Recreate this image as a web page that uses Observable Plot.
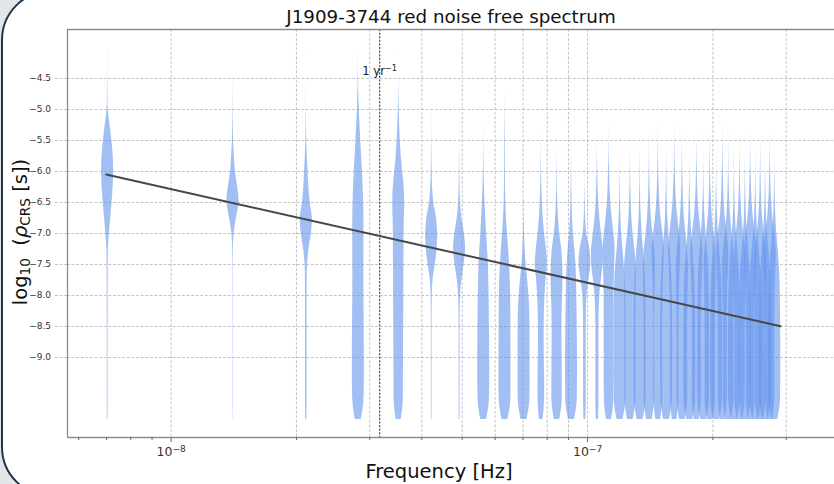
<!DOCTYPE html>
<html>
<head>
<meta charset="utf-8">
<script src="https://cdn.jsdelivr.net/npm/d3@7"></script>
<script src="https://cdn.jsdelivr.net/npm/@observablehq/plot@0.6"></script>
<style>
  html, body { margin: 0; padding: 0; width: 834px; height: 484px; overflow: hidden; background: #e3e6e9; font-family: "DejaVu Sans", sans-serif; }
  #card { position: absolute; left: 1px; top: -10px; width: 900px; height: 507px; box-sizing: border-box; border: 2px solid #1f3547; border-radius: 50px; background: #fff; }
  #chart { position: absolute; left: 0; top: 0; }
  .lbl { position: absolute; white-space: nowrap; color: #111; line-height: 1; }
  #title { left: 0; width: 902px; text-align: center; top: 8px; font-size: 18.3px; }
  #xlabel { left: 0; width: 878px; text-align: center; top: 462px; font-size: 19.5px; }
  #ylabel { left: 21px; top: 232px; font-size: 19.5px; transform: translate(-50%, -50%) rotate(-90deg); }
  #ylabel sub { font-size: 70%; vertical-align: -0.22em; line-height: 0; }
</style>
</head>
<body>
<div id="card"></div>
<div id="chart"></div>
<div id="title" class="lbl">J1909-3744 red noise free spectrum</div>
<div id="xlabel" class="lbl">Frequency [Hz]</div>
<div id="ylabel" class="lbl">log<sub>10</sub>&nbsp; (<i>ρ</i><sub>CRS</sub> [s])</div>
<script>
// Frequency bins (nHz), one violin each
const freqNHz = [7.04,14.08,21.12,28.16,35.20,42.24,49.28,56.32,63.36,70.40,77.44,84.48,91.52,98.56,105.60,112.64,119.68,126.72,133.76,140.80,147.84,154.88,161.92,168.96,176.00,183.04,190.08,197.12,204.16,211.20,218.24,225.28,232.32,239.36,246.40,253.44,260.48,267.52,274.56,281.60];

// log10 rho values at which the violin widths were read
const logRhoGrid = [-10,-9.75,-9.5,-9.25,-9,-8.75,-8.5,-8.25,-8,-7.75,-7.5,-7.25,-7,-6.75,-6.5,-6.25,-6,-5.75,-5.5,-5.25,-5,-4.75,-4.5,-4.25,-4];

// Relative violin width (0..10) per frequency bin, read at logRhoGrid
const density = [
  [0.6,0.7,0.7,0.7,0.7,0.7,0.7,0.8,0.8,0.9,1.0,1.3,2.9,5.2,7.4,9.2,10,9.3,7.0,4.0,1.0,0.4,0.2,0.1,0.05],
  [0.2,0.3,0.3,0.3,0.3,0.3,0.3,0.3,0.3,0.3,0.4,0.6,1.8,5.8,10,7.8,4.0,2.2,1.0,0.5,0.3,0.15,0.05,0,0],
  [1.0,1.2,1.3,1.3,1.3,1.3,1.3,1.3,1.3,1.5,2.0,4.5,8.5,10,6.5,4.2,3.0,1.6,0.8,0.4,0.2,0.1,0.05,0,0],
  [5.0,8.8,9.8,10,10,9.9,9.7,9.5,9.3,9.2,9.2,9.3,9.4,9.3,8.8,8.0,6.8,5.4,4.0,2.8,1.6,0.8,0.3,0.1,0],
  [4.2,7.4,7.8,7.9,8.0,8.1,8.2,8.4,8.5,8.6,8.7,8.8,8.9,9.4,10,9.0,6.6,4.2,2.6,1.6,0.8,0.3,0.1,0,0],
  [0.5,0.6,0.6,0.6,0.6,0.6,0.6,0.7,1.0,2.2,6.0,9.0,10,8.0,3.5,1.5,0.8,0.4,0.2,0.1,0.05,0,0,0,0],
  [0.7,0.8,0.8,0.8,0.8,0.8,0.8,1.0,1.6,3.8,7.5,10,8.0,3.8,1.6,0.8,0.4,0.2,0.1,0.05,0,0,0,0,0],
  [5,9.0,9.8,10,10,9.8,9.6,9.3,9.0,8.5,7.8,6.4,4.8,3.4,2.2,1.2,0.6,0.3,0.15,0.05,0,0,0,0,0],
  [5,9.2,10,10,10,9.9,9.8,9.6,9.4,8.8,7.6,6.0,4.2,2.5,1.4,0.9,0.7,0.6,0.5,0.3,0.15,0.05,0,0,0],
  [5,9.2,10,10,10,10,9.9,9.4,8.2,6.0,3.5,1.8,0.8,0.3,0.1,0,0,0,0,0,0,0,0,0,0],
  [3.0,5.2,5.6,5.4,5.0,4.8,4.8,5.2,6.2,7.8,10,8.4,5.5,3.2,1.8,1.0,0.5,0.2,0.1,0,0,0,0,0,0],
  [4.5,8.2,8.6,8.5,8.4,8.2,8.2,8.5,9.2,9.9,9.5,7.8,4.5,2.4,1.2,0.6,0.3,0.1,0,0,0,0,0,0,0],
  [5,9.2,9.8,10,10,9.8,9.5,9.2,8.8,8.4,7.4,5.5,3.2,1.8,1.0,0.6,0.3,0.15,0.05,0,0,0,0,0,0],
  [1.5,2.2,2.2,2.2,2.2,2.2,2.2,2.5,3.5,6.5,9.8,8.0,3.0,1.2,0.5,0.2,0.1,0,0,0,0,0,0,0,0],
  [1.8,2.6,2.6,2.6,2.6,2.6,2.6,3.0,4.0,6.5,9.5,9.6,6.8,4.0,2.2,1.2,0.6,0.2,0.05,0,0,0,0,0,0],
  [4.2,7.5,8.0,8.2,8.2,8.2,8.2,8.2,8.2,8.6,9.4,10,8.0,5.0,2.8,1.6,0.9,0.4,0.15,0.05,0,0,0,0,0],
  [5,9.2,9.8,10,9.8,9.8,9.8,9.8,9.4,8.6,7.0,4.8,2.8,1.5,0.8,0.4,0.15,0.05,0,0,0,0,0,0,0],
  [4.8,8.8,9.2,9.2,9.2,9.2,9.2,9.3,9.5,9.8,9.6,7.5,4.5,2.5,1.4,0.7,0.3,0.1,0,0,0,0,0,0,0],
  [5,9.2,9.8,10,10,9.9,9.8,9.6,9.3,8.7,7.4,5.4,3.3,1.9,1.0,0.5,0.25,0.1,0,0,0,0,0,0,0],
  [4.6,8.4,8.8,8.8,8.7,8.6,8.6,8.8,9.2,9.8,10,8.6,5.6,3.2,1.8,1.0,0.5,0.2,0.1,0,0,0,0,0,0],
  [4.0,7.0,7.4,7.4,7.3,7.2,7.2,7.4,7.8,8.6,9.6,10,7.8,4.6,2.6,1.5,0.8,0.4,0.15,0.05,0,0,0,0,0],
  [5,9.0,9.6,9.8,10,10,9.9,9.7,9.4,8.8,7.6,5.8,3.6,2.0,1.1,0.6,0.3,0.1,0,0,0,0,0,0,0],
  [3.8,6.8,7.2,7.2,7.1,7.0,7.0,7.2,7.6,8.4,9.4,10,8.2,5.2,3.0,1.7,0.9,0.45,0.15,0.05,0,0,0,0,0],
  [4.6,8.4,8.8,8.8,8.7,8.6,8.7,8.9,9.3,9.8,10,8.4,5.8,3.4,1.9,1.1,0.6,0.25,0.1,0,0,0,0,0,0],
  [5,9.2,9.8,10,10,9.9,9.8,9.6,9.2,8.5,7.2,5.2,3.2,1.8,1.0,0.5,0.2,0.05,0,0,0,0,0,0,0],
  [4.0,7.2,7.6,7.6,7.5,7.4,7.4,7.6,8.0,8.8,9.7,10,7.6,4.4,2.4,1.3,0.7,0.3,0.1,0,0,0,0,0,0],
  [5,9.2,9.8,10,10,9.9,9.8,9.7,9.4,8.8,7.8,6.0,3.8,2.1,1.1,0.5,0.2,0.05,0,0,0,0,0,0,0],
  [4.5,8.2,8.6,8.6,8.5,8.5,8.6,8.8,9.2,9.8,10,8.8,6.2,3.6,2.0,1.1,0.6,0.3,0.1,0,0,0,0,0,0],
  [5,9.2,9.8,10,10,9.9,9.7,9.5,9.1,8.4,7.0,5.0,3.0,1.7,0.9,0.45,0.2,0.05,0,0,0,0,0,0,0],
  [4.0,7.0,7.4,7.4,7.3,7.3,7.4,7.6,8.0,8.8,9.8,10,7.4,4.2,2.4,1.4,0.8,0.4,0.15,0.05,0,0,0,0,0],
  [4.6,8.4,8.8,8.8,8.7,8.7,8.7,8.9,9.3,9.9,10,8.5,5.8,3.3,1.8,1.0,0.5,0.2,0.1,0,0,0,0,0,0],
  [5,9.2,9.8,10,10,9.9,9.8,9.6,9.3,8.7,7.5,5.6,3.4,1.9,1.0,0.5,0.25,0.1,0,0,0,0,0,0,0],
  [4.5,8.3,8.7,8.7,8.6,8.6,8.6,8.8,9.2,9.7,10,8.7,6.0,3.5,1.9,1.0,0.5,0.2,0.05,0,0,0,0,0,0],
  [5,9.2,9.8,10,10,9.9,9.8,9.6,9.2,8.6,7.3,5.4,3.3,1.8,1.0,0.5,0.2,0.05,0,0,0,0,0,0,0],
  [4.0,7.1,7.5,7.5,7.4,7.3,7.3,7.5,7.9,8.7,9.7,10,7.7,4.5,2.5,1.4,0.7,0.3,0.1,0,0,0,0,0,0],
  [5,9.2,9.8,10,10,9.9,9.8,9.6,9.3,8.8,7.7,5.8,3.5,1.9,1.0,0.5,0.25,0.1,0,0,0,0,0,0,0],
  [4.6,8.4,8.8,8.8,8.7,8.6,8.6,8.8,9.2,9.8,10,8.6,5.8,3.3,1.8,1.0,0.5,0.2,0.05,0,0,0,0,0,0],
  [5,9.2,9.8,10,10,9.9,9.8,9.6,9.2,8.6,7.4,5.5,3.3,1.8,1.0,0.5,0.2,0.05,0,0,0,0,0,0,0],
  [4.0,7.0,7.4,7.4,7.3,7.3,7.3,7.5,7.9,8.7,9.7,10,7.6,4.4,2.4,1.3,0.7,0.3,0.1,0,0,0,0,0,0],
  [5,9.2,9.8,10,10,9.9,9.8,9.6,9.3,8.7,7.5,5.6,3.4,1.9,1.0,0.5,0.25,0.1,0,0,0,0,0,0,0]
];

// Power-law fit line endpoints
const powerLawFreqHz = [6.985e-9, 2.906e-7];
const powerLawLogRho = [-6.048, -8.495];

// 1 / year in Hz, with its label (base ^ exponent)
const yearFreqHz = 3.169e-8;
const yearLabel = "1 yr^\u22121";

// Axes
const xDomain = [5.639e-9, 3.918e-7];
const yDomain = [-10.29, -3.71];
const yTicks = [-4.5, -5.0, -5.5, -6.0, -6.5, -7.0, -7.5, -8.0, -8.5, -9.0];
const xMajorTicks = [1e-8, 1e-7];
const xMajorLabels = ["10^\u22128", "10^\u22127"];
const xMinorTicks = [6e-9,7e-9,8e-9,9e-9,2e-8,3e-8,4e-8,5e-8,6e-8,7e-8,8e-8,9e-8,2e-7,3e-7];
const xGridTicks = [1e-8,2e-8,3e-8,4e-8,5e-8,6e-8,7e-8,8e-8,9e-8,1e-7,2e-7,3e-7];

const W = 834, H = 484, ML = 67, MR = 0, MT = 29, MB = 47;
const pxPerDecade = (W - ML - MR) / Math.log10(xDomain[1] / xDomain[0]);
const halfWidthDec = 6 / pxPerDecade; // max half width of a violin = 6 px

const violinRows = freqNHz.flatMap((fn, i) =>
  logRhoGrid.map((v, j) => ({k: i, f: fn * 1e-9, v, d: density[i][j]})));
const lineRows = powerLawFreqHz.map((f, i) => ({f, v: powerLawLogRho[i]}));

const gridStyle = {stroke: "#b4b4b4", strokeOpacity: 1, strokeWidth: 0.8, strokeDasharray: "2.8,1.8"};
const minus = s => s.replace("-", "\u2212");

const chart = Plot.plot({
  width: W, height: H,
  marginLeft: ML, marginRight: MR, marginTop: MT, marginBottom: MB,
  style: {fontFamily: "DejaVu Sans, sans-serif", background: "transparent", overflow: "visible", color: "#333"},
  x: {type: "log", domain: xDomain},
  y: {domain: yDomain},
  marks: [
    Plot.gridY(yTicks, gridStyle),
    Plot.gridX(xGridTicks, gridStyle),
    Plot.areaX(violinRows, {
      x1: r => r.f * Math.pow(10, -halfWidthDec * r.d / 10),
      x2: r => r.f * Math.pow(10, halfWidthDec * r.d / 10),
      y: "v", z: "k",
      fill: "#6495ED", fillOpacity: 0.6,
      curve: "catmull-rom"
    }),
    Plot.ruleX([yearFreqHz], {stroke: "#2a2a2a", strokeWidth: 1, strokeDasharray: "2.2,1.4"}),
    Plot.line(lineRows, {x: "f", y: "v", stroke: "#474747", strokeWidth: 2}),
    Plot.text([yearFreqHz], {x: d => d, frameAnchor: "top", dy: 37, text: () => yearLabel, fontSize: 11.5, fill: "#222"}),
    Plot.ruleX([xDomain[0]], {stroke: "#8c8c8c", strokeWidth: 1.3}),
    Plot.ruleY([yDomain[0], yDomain[1]], {stroke: "#8c8c8c", strokeWidth: 1.3}),
    Plot.axisY(yTicks, {
      anchor: "left", tickSize: 14, tickPadding: 2.5, fontSize: 9,
      stroke: "#b4b4b4", strokeWidth: 0.8, strokeDasharray: "2.8,1.8", fill: "#333",
      tickFormat: d => minus(d.toFixed(1)), label: null
    }),
    Plot.axisX(xMajorTicks, {
      anchor: "bottom", tickSize: 5, tickPadding: 5, fontSize: 12.5, stroke: "#666", fill: "#333",
      tickFormat: d => xMajorLabels[xMajorTicks.indexOf(d)], label: null
    }),
    Plot.axisX(xMinorTicks, {
      anchor: "bottom", tickSize: 3, stroke: "#666", tickFormat: () => "", label: null
    })
  ]
});

// Render "base^exp" texts with a real superscript tspan
chart.querySelectorAll("text").forEach(t => {
  const s = t.textContent;
  const k = s.indexOf("^");
  if (k < 0) return;
  const ns = "http://www.w3.org/2000/svg";
  t.textContent = "";
  const base = document.createElementNS(ns, "tspan");
  base.textContent = s.slice(0, k);
  const sup = document.createElementNS(ns, "tspan");
  sup.textContent = s.slice(k + 1);
  sup.setAttribute("dy", "-0.5em");
  sup.setAttribute("font-size", "72%");
  t.appendChild(base);
  t.appendChild(sup);
});

document.getElementById("chart").appendChild(chart);
</script>
</body>
</html>
